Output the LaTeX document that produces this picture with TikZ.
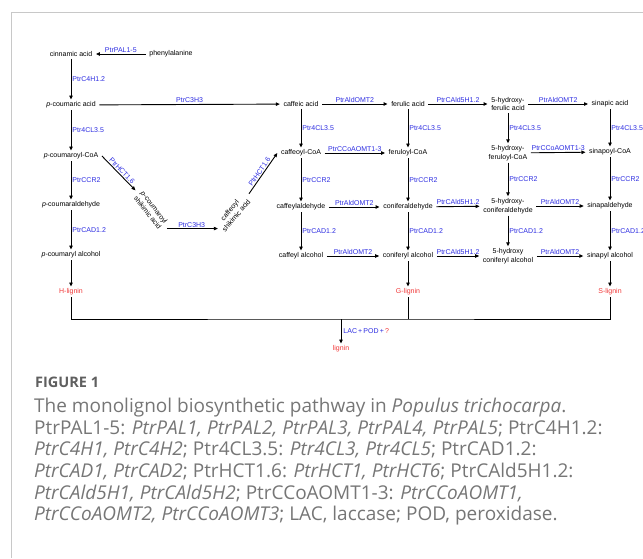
\documentclass[tikz,border=0pt]{standalone}
\usepackage{fontspec}
\setmainfont{Liberation Sans}
\newfontfamily\capfont{Open Sans}
\usetikzlibrary{arrows.meta,calc,positioning}
\definecolor{enzblue}{RGB}{45,45,225}
\definecolor{lignred}{RGB}{240,55,55}
\definecolor{capgray}{RGB}{118,118,118}
\definecolor{figgray}{RGB}{95,95,95}
\definecolor{framegray}{RGB}{200,200,200}

\begin{document}
\begin{tikzpicture}[
        x=1pt, y=-1pt,
        cstyle/.style={font=\fontsize{7}{8.4}\selectfont, inner xsep=3.5pt, inner ysep=2pt, align=center},
        estyle/.style={font=\fontsize{7}{8.4}\selectfont, text=enzblue, inner sep=1pt},
        lstyle/.style={font=\fontsize{7}{8.4}\selectfont, text=lignred, inner xsep=3pt, inner ysep=2pt},
        pathstyle/.style={-{Triangle[length=4pt,width=3.4pt]}, line width=0.9pt},
        linkstyle/.style={line width=0.9pt}
      ]
        \useasboundingbox (0,0) rectangle (643,558);
        \draw[framegray, line width=1pt] (643,12) -- (11,12) -- (11,558);

        % H branch
        \node[cstyle] (CIN) at (71,54) {cinnamic acid};
        \node[cstyle] (PHE) at (171,54) {phenylalanine};
        \node[cstyle] (PCA) at (71,105) {\textit{p}-coumaric acid};
        \node[cstyle] (PCC) at (71,156) {\textit{p}-coumaroyl-CoA};
        \node[cstyle] (PCALD) at (71,205) {\textit{p}-coumaraldehyde};
        \node[cstyle] (PCALC) at (71,255) {\textit{p}-coumaryl alcohol};
        \node[lstyle] (HL) at (71,292) {H-lignin};
        \node[cstyle, rotate=-52] (PCS) at (151,210) {\textit{p}-coumaroyl\\shikimic acid};
        \node[cstyle, rotate=50] (CS) at (233,213) {caffeoyl\\shikimic acid};

        % caffeic column
        \node[cstyle] (CA) at (301,104) {caffeic acid};
        \node[cstyle] (CCOA) at (301,153) {caffeoyl-CoA};
        \node[cstyle] (CALD) at (301,207) {caffeylaldehyde};
        \node[cstyle] (CALC) at (301,256) {caffeyl alcohol};

        % G column
        \node[cstyle] (FA) at (408,104) {ferulic acid};
        \node[cstyle] (FCOA) at (408,153) {feruloyl-CoA};
        \node[cstyle] (FALD) at (408,207) {coniferaldehyde};
        \node[cstyle] (FALC) at (408,256) {coniferyl alcohol};
        \node[lstyle] (GL) at (408,292) {G-lignin};

        % 5-hydroxy column
        \node[cstyle] (HFA) at (508,104) {5-hydroxy-\\ferulic acid};
        \node[cstyle] (HFCOA) at (508,153) {5-hydroxy-\\feruloyl-CoA};
        \node[cstyle] (HFALD) at (508,206) {5-hydroxy-\\coniferaldehyde};
        \node[cstyle] (HFALC) at (508,256) {5-hydroxy\\coniferyl alcohol};

        % S column
        \node[cstyle] (SA) at (610,104) {sinapic acid};
        \node[cstyle] (SCOA) at (610,152) {sinapoyl-CoA};
        \node[cstyle] (SALD) at (610,206) {sinapaldehyde};
        \node[cstyle] (SALC) at (610,256) {sinapyl alcohol};
        \node[lstyle] (SL) at (610,292) {S-lignin};

        \coordinate (JUNC) at (341,319);
        \node[lstyle] (LIG) at (341,349) {lignin};

        % vertical steps
        \draw[pathstyle] (CIN) -- node[estyle, right] (E1) {PtrC4H1.2} (PCA);
        \draw[pathstyle] (PCA) -- node[estyle, right] (E2) {Ptr4CL3.5} (PCC);
        \draw[pathstyle] (PCC) -- node[estyle, right] (E3) {PtrCCR2} (PCALD);
        \draw[pathstyle] (PCALD) -- node[estyle, right] (E4) {PtrCAD1.2} (PCALC);
        \draw[pathstyle] (PCALC) -- (HL);
        \draw[pathstyle] (CA) -- node[estyle, right] (E5) {Ptr4CL3.5} (CCOA);
        \draw[pathstyle] (CCOA) -- node[estyle, right] (E6) {PtrCCR2} (CALD);
        \draw[pathstyle] (CALD) -- node[estyle, right] (E7) {PtrCAD1.2} (CALC);
        \draw[pathstyle] (FA) -- node[estyle, right] (E8) {Ptr4CL3.5} (FCOA);
        \draw[pathstyle] (FCOA) -- node[estyle, right] (E9) {PtrCCR2} (FALD);
        \draw[pathstyle] (FALD) -- node[estyle, right] (E10) {PtrCAD1.2} (FALC);
        \draw[pathstyle] (FALC) -- (GL);
        \draw[pathstyle] (HFA) -- node[estyle, right] (E11) {Ptr4CL3.5} (HFCOA);
        \draw[pathstyle] (HFCOA) -- node[estyle, right] (E12) {PtrCCR2} (HFALD);
        \draw[pathstyle] (HFALD) -- node[estyle, right] (E13) {PtrCAD1.2} (HFALC);
        \draw[pathstyle] (SA) -- node[estyle, right] (E14) {Ptr4CL3.5} (SCOA);
        \draw[pathstyle] (SCOA) -- node[estyle, right] (E15) {PtrCCR2} (SALD);
        \draw[pathstyle] (SALD) -- node[estyle, right] (E16) {PtrCAD1.2} (SALC);
        \draw[pathstyle] (SALC) -- (SL);

        % horizontal steps
        \draw[pathstyle] (PHE) -- node[estyle, above] (E17) {PtrPAL1-5} (CIN);
        \draw[pathstyle] (PCA) -- node[estyle, above] (E18) {PtrC3H3} (CA);
        \draw[pathstyle] (CA) -- node[estyle, above] (E19) {PtrAldOMT2} (FA);
        \draw[pathstyle] (CCOA) -- node[estyle, above] (E20) {PtrCCoAOMT1-3} (FCOA);
        \draw[pathstyle] (CALD) -- node[estyle, above] (E21) {PtrAldOMT2} (FALD);
        \draw[pathstyle] (CALC) -- node[estyle, above] (E22) {PtrAldOMT2} (FALC);
        \draw[pathstyle] (FA) -- node[estyle, above] (E23) {PtrCAld5H1.2} (HFA);
        \draw[pathstyle] (FALD) -- node[estyle, above] (E24) {PtrCAld5H1.2} (HFALD);
        \draw[pathstyle] (FALC) -- node[estyle, above] (E25) {PtrCAld5H1.2} (HFALC);
        \draw[pathstyle] (HFA) -- node[estyle, above] (E26) {PtrAldOMT2} (SA);
        \draw[pathstyle] (HFCOA) -- node[estyle, above] (E27) {PtrCCoAOMT1-3} (SCOA);
        \draw[pathstyle] (HFALD) -- node[estyle, above] (E28) {PtrAldOMT2} (SALD);
        \draw[pathstyle] (HFALC) -- node[estyle, above] (E29) {PtrAldOMT2} (SALC);

        % shikimate detour
        \draw[pathstyle, shorten >=1.5pt] (PCC.east) -- node[estyle, sloped, above] (E30) {PtrHCT1.6} (PCS.west);
        \draw[pathstyle, shorten <=1.5pt] (PCS.east) -- node[estyle, above] (E31) {PtrC3H3} (CS.west |- PCS.east);
        \draw[pathstyle, shorten <=1.5pt] (CS.east) -- node[estyle, sloped, above] (E32) {PtrHCT1.6} (CCOA.west);

        % polymerisation
        \draw[linkstyle] (HL) |- (JUNC) -| (SL);
        \draw[linkstyle] (GL) -- (GL |- JUNC);
        \draw[pathstyle] (JUNC) -- node[estyle, right, xshift=1pt] (E33) {LAC\,+\,POD\,+\,\textcolor{lignred}{?}} (LIG);

        % caption
        \node[anchor=base west, inner sep=0pt, text=figgray, font=\capfont\bfseries\fontsize{14.5}{16}\selectfont] (FIG) at (35,387) {FIGURE 1};
        \node[anchor=north west, inner sep=0pt, text=capgray, align=left, font=\capfont\fontsize{19}{21.6}\selectfont] (CAP) at (34,398)
          {The monolignol biosynthetic pathway in \textit{Populus trichocarpa}.\\
           PtrPAL1-5: \textit{PtrPAL1, PtrPAL2, PtrPAL3, PtrPAL4, PtrPAL5}; PtrC4H1.2:\\
           \textit{PtrC4H1, PtrC4H2}; Ptr4CL3.5: \textit{Ptr4CL3, Ptr4CL5}; PtrCAD1.2:\\
           \textit{PtrCAD1, PtrCAD2}; PtrHCT1.6: \textit{PtrHCT1, PtrHCT6}; PtrCAld5H1.2:\\
           \textit{PtrCAld5H1, PtrCAld5H2}; PtrCCoAOMT1-3: \textit{PtrCCoAOMT1,}\\
           \textit{PtrCCoAOMT2, PtrCCoAOMT3}; LAC, laccase; POD, peroxidase.};
      \end{tikzpicture}
\end{document}
